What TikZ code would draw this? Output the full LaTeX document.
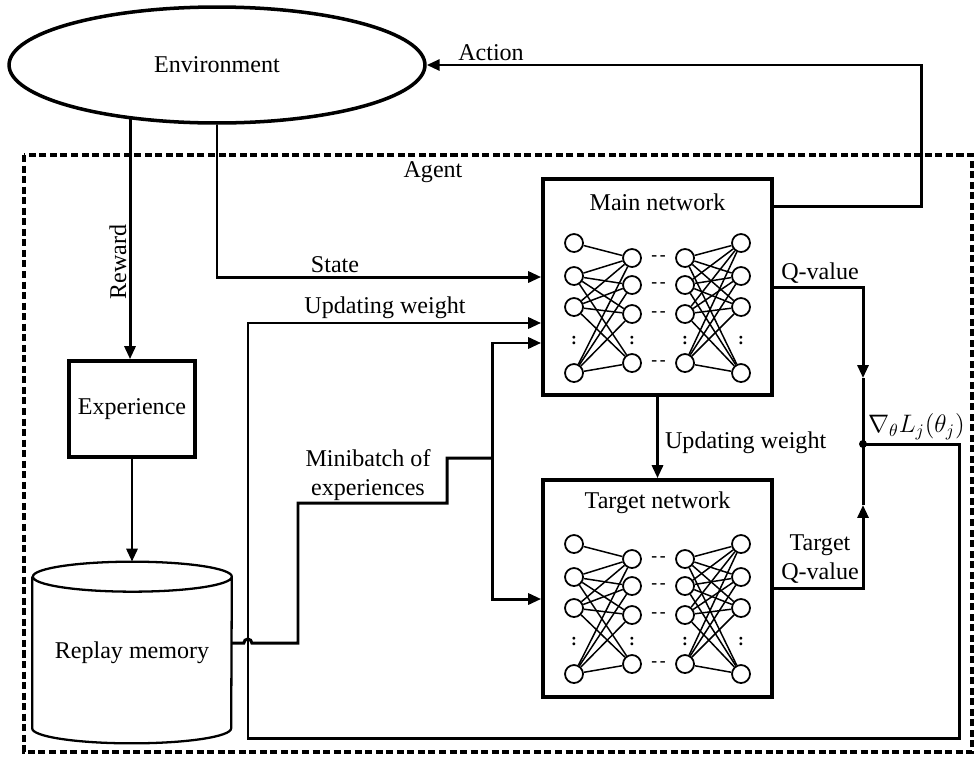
\documentclass[tikz,border=0pt]{standalone}
\usepackage{fontspec}
\setmainfont{Liberation Serif}
\usetikzlibrary{arrows.meta,positioning,shapes.geometric}

\begin{document}
\begin{tikzpicture}[
  x=0.02cm, y=0.02cm,
  font=\fontsize{13.7}{16.4}\selectfont,
  box/.style={draw, line width=2.1pt, inner sep=0pt},
  neuron/.style={draw, circle, line width=1pt, minimum size=0.36cm, inner sep=0pt},
  wire/.style={line width=0.85pt},
  hdots/.style={inner sep=0pt, font=\bfseries\fontsize{10}{10}\selectfont},
  vdots/.style={inner sep=0pt, font=\bfseries},
  conn/.style={line width=1.7pt},
  arr/.style={conn, -{Triangle[length=2.6mm,width=2.2mm]}},
  lbl/.style={align=center, inner sep=1pt}
]
  \useasboundingbox (0,0) rectangle (976,-758);
  \draw[line width=2pt, dash pattern=on 4pt off 2pt] (24,-155) rectangle (972,-752);

  \node[draw, ellipse, line width=2pt, minimum width=8.32cm, minimum height=2.32cm] (env) at (217,-65) {Environment};
  \node[box, minimum width=2.52cm, minimum height=1.92cm] (exp) at (132,-409) {Experience};
  \node[minimum width=3.98cm, minimum height=3.62cm] (mem) at (132,-652.5) {Replay memory};
  \draw[line width=1.3pt] ([yshift=-0.3cm]mem.north west) -- ([yshift=0.3cm]mem.south west)
    arc[start angle=180, end angle=360, x radius=99.5, y radius=15] -- ([yshift=-0.3cm]mem.north east)
    arc[start angle=0, end angle=180, x radius=99.5, y radius=15]
    arc[start angle=180, end angle=360, x radius=99.5, y radius=15];

  \node[box, minimum width=4.58cm, minimum height=4.32cm] (main) at (657.5,-287) {};
  \node[box, minimum width=4.58cm, minimum height=4.34cm] (target) at (657.5,-588.5) {};

  \foreach \nm/\ytop/\ttl in {m/179/Main network, t/480/Target network}{
    \node (\nm-title) at (657.5,-\ytop-23) {\ttl};
    \foreach \i/\ya/\yb in {1/64/79, 2/97/106, 3/128/135, 4/194/184}{
      \node[neuron] (\nm-a\i) at (574,-\ytop-\ya) {};
      \node[neuron] (\nm-b\i) at (632,-\ytop-\yb) {};
      \node[neuron] (\nm-c\i) at (685,-\ytop-\yb) {};
      \node[neuron] (\nm-d\i) at (741,-\ytop-\ya) {};
      \node[hdots] (\nm-h\i) at (658.5,-\ytop-\yb) {-\kern1.5pt-};
    }
    \foreach \col/\x in {a/574, b/632, c/685, d/741}
      \node[vdots] (\nm-v\col) at (\x,-\ytop-161) {:};
    \draw[wire] (\nm-a1) -- (\nm-b1);
    \foreach \i in {2,3,4}
      \foreach \j in {1,...,4}
        \draw[wire] (\nm-a\i) -- (\nm-b\j);
    \foreach \i in {1,...,4}
      \foreach \j in {1,...,4}
        \draw[wire] (\nm-c\i) -- (\nm-d\j);
  }

  \node[lbl] (agent) at (433,-172) {Agent};
  \node[lbl] (act) at (491,-53) {Action};
  \node[lbl, rotate=90] (rew) at (118,-262) {Reward};
  \node[lbl] (st) at (335,-265) {State};
  \node[lbl] (upd1) at (385,-308) {Updating weight};
  \node[lbl, anchor=west] (upd2) at (663,-443) {Updating weight};
  \node[lbl] (mb) at (368,-475) {Minibatch of\\experiences};
  \node[lbl] (qv) at (820,-273) {Q-value};
  \node[lbl] (tqv) at (820,-559) {Target\\Q-value};
  \node[lbl, anchor=west, font=\fontsize{14.5}{17}\selectfont] (grl) at (866,-427) {$\nabla_\theta L_j(\theta_j)$};

  \coordinate (grad) at (863,-444);
  \coordinate (split) at (492,-458);
  \fill (grad) circle (4);

  \draw[arr] ([yshift=-0.58cm]main.north east) -- ++(148,0) |- (env.east);
  \draw[arr] (env.212) -- (env.212 |- exp.north);
  \draw[arr] (env.south) |- ([yshift=0.2cm]main.west);
  \draw[arr] (exp.south) -- (mem.north);
  \draw[arr] (main.south) -- (target.north);
  \draw[arr] (main.east) -| ([yshift=1.32cm]grad);
  \draw[conn] ([yshift=1.32cm]grad) -- (grad);
  \draw[arr] (target.east) -| ([yshift=-1.22cm]grad);
  \draw[conn] ([yshift=-1.22cm]grad) -- (grad);
  \draw[arr] (grad) -- (959,-444) |- (248,-738) |- ([yshift=-0.72cm]main.west);
  \draw[conn] ([yshift=0.19cm]mem.east) -- ++(12,0) arc[start angle=180, end angle=0, radius=4]
    -- (298,-643) |- (447,-503) |- (split);
  \draw[arr] (split) |- ([yshift=-1.12cm]main.west);
  \draw[arr] (split) |- ([yshift=-0.21cm]target.west);
\end{tikzpicture}
\end{document}
